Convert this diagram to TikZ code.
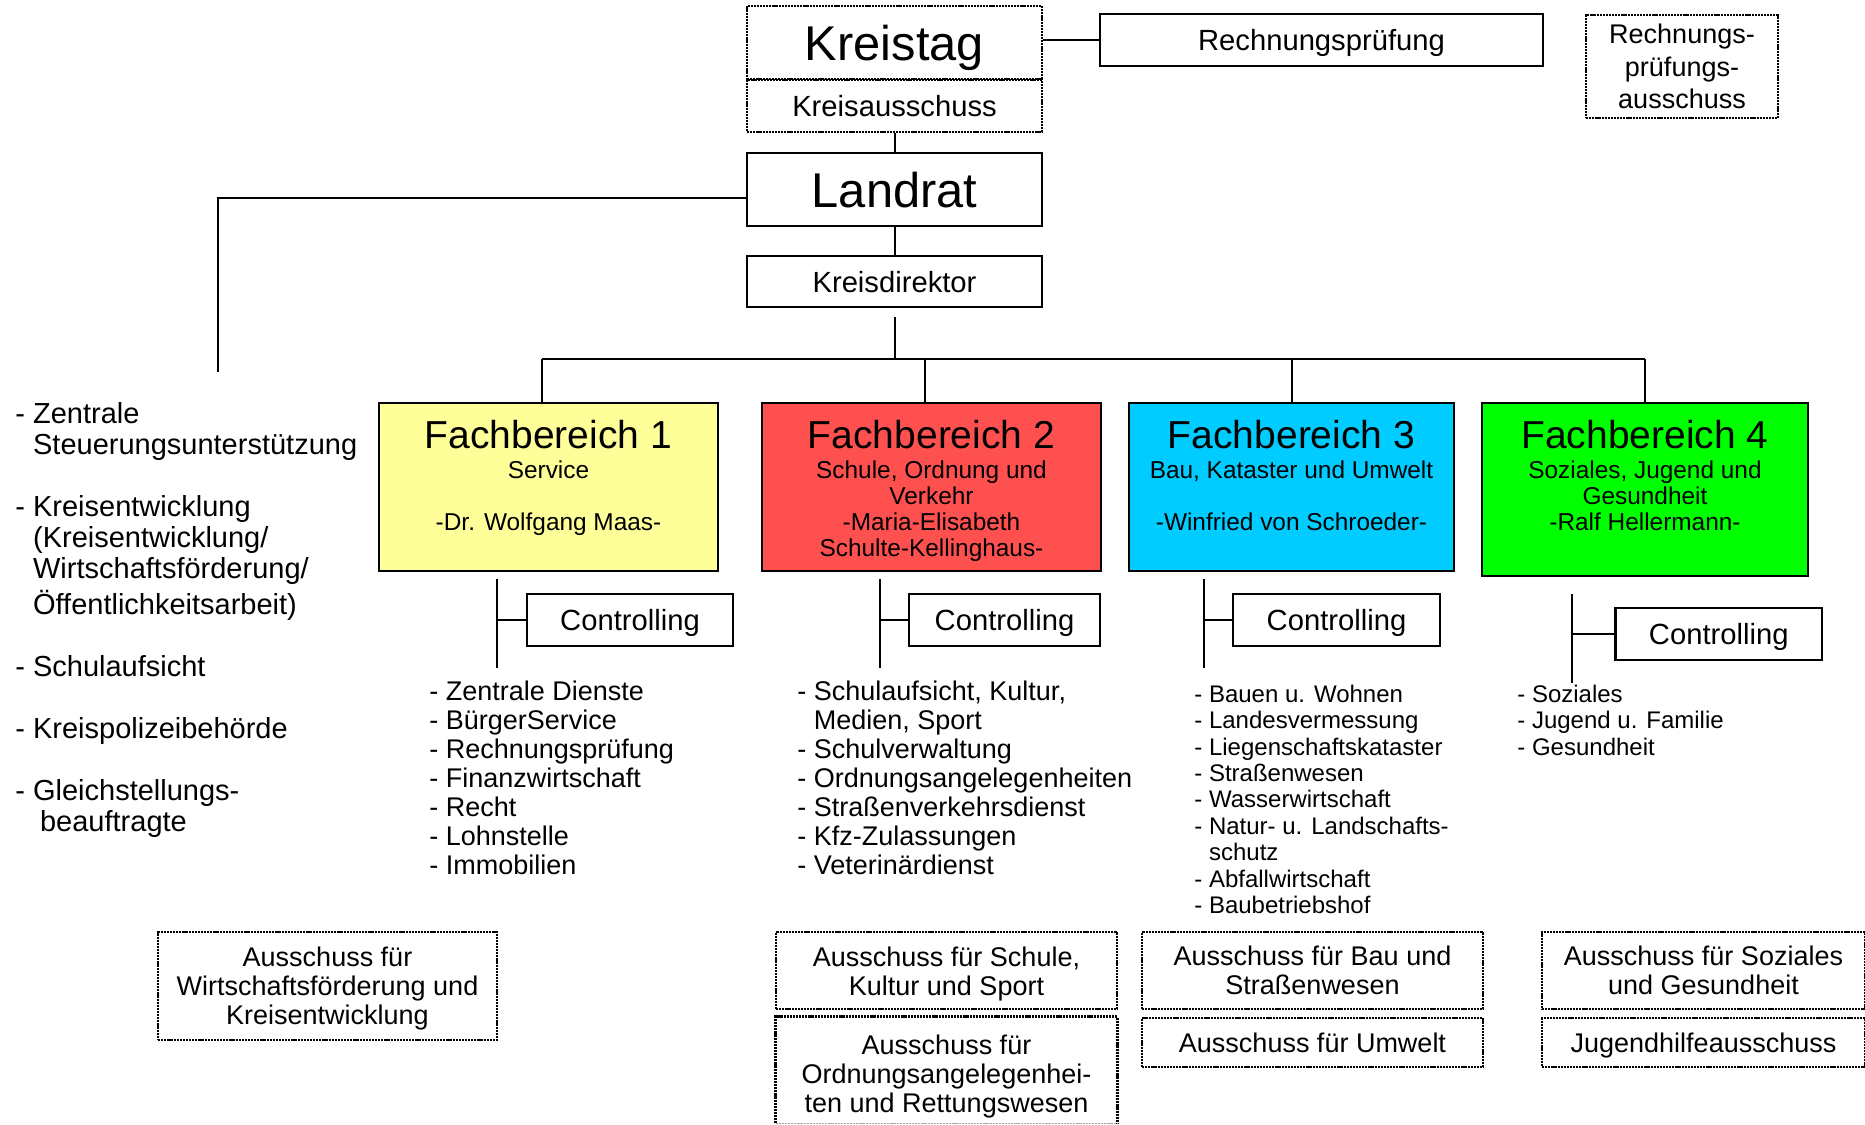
\documentclass[tikz,border=0pt]{standalone}
\usepackage{fontspec}
\setmainfont{Liberation Sans}
\newcommand\fs[2]{\fontsize{#1}{#2}\selectfont}
\definecolor{fbyellow}{RGB}{255,255,153}
\definecolor{fbred}{RGB}{255,80,80}
\definecolor{fbcyan}{RGB}{0,204,255}
\definecolor{fbgreen}{RGB}{0,255,0}
\tikzset{
  sbox/.style={draw, line width=1.25pt, inner sep=0pt},
  dline/.style={line width=1.3pt, dash pattern=on 1.1pt off 0.45pt},
  dbox/.style={draw, dline, inner sep=0pt},
  fbox/.style={draw, line width=1.2pt, inner sep=0pt},
  conn/.style={line width=1pt},
  bigtxt/.style={text height=17.6pt, text depth=0pt, font=\fs{24.4pt}{28pt}},
  midtxt/.style={text height=10.5pt, text depth=0pt, font=\fs{14.6pt}{17pt}},
  smalltxt/.style={text height=9.7pt, text depth=0pt, font=\fs{13.5pt}{14.5pt}},
  ttl/.style={inner sep=0pt, font=\fs{19.5pt}{22pt}},
  subtxt/.style={inner sep=0pt, align=center, font=\fs{12.2pt}{13pt}},
  listA/.style={inner sep=0pt, align=left, anchor=north west, font=\fs{13.5pt}{14.5pt}},
  listB/.style={inner sep=0pt, align=left, anchor=north west, font=\fs{12pt}{13.2pt}},
  listL/.style={inner sep=0pt, align=left, anchor=north west, font=\fs{14.5pt}{15.55pt}},
  atxt/.style={align=center, inner sep=0pt, font=\fs{13.5pt}{14.5pt}},
  frame/.style={inner sep=0pt},
}
\begin{document}
\begin{tikzpicture}[x=0.5pt, y=-0.5pt]
\path[use as bounding box] (0,0) rectangle (1865,1125);

% --- top level ---
\node[dbox, bigtxt, minimum width=147.5pt, minimum height=36.5pt] (kreistag) at (894.5,42.5) {Kreistag};
\node[dbox, midtxt, minimum width=147.5pt, minimum height=26pt] (kreisaus) at (894.5,106) {Kreisausschuss};
\node[sbox, midtxt, minimum width=221.5pt, minimum height=26pt] (rp) at (1321.5,40) {Rechnungsprüfung};
\node[dbox, align=center, font=\fs{13.5pt}{16.4pt}, minimum width=96pt, minimum height=51.5pt] (rpa) at (1682,66.5) {Rechnungs-\\prüfungs-\\ausschuss};
\node[sbox, bigtxt, minimum width=147.5pt, minimum height=36.5pt] (landrat) at (894.5,189.5) {Landrat};
\node[sbox, midtxt, minimum width=147.5pt, minimum height=25.5pt] (kreisdir) at (894.5,281.5) {Kreisdirektor};

\draw[conn] (rp.west) -- (rp.west -| kreistag.east);
\draw[conn] (kreisaus.south) -- (landrat.north);
\draw[conn] (landrat.south) -- (kreisdir.north);
\coordinate (lend) at (218,372);
\draw[conn] ([yshift=-4pt]landrat.west) -| (lend);

% --- bus to the departments ---
\coordinate (b1) at (542,359);
\coordinate (b2) at (925,359);
\coordinate (b3) at (1292,359);
\coordinate (b4) at (1645,359);
\draw[line width=1.1pt] (b1) -- (b4);
\draw[conn] ([yshift=-4.5pt]kreisdir.south) -- (kreisdir.south |- b1);

% --- departments ---
\node[fbox, fill=fbyellow, minimum width=169.5pt, minimum height=84pt] (fb1) at (548.5,487) {};
\node[fbox, fill=fbred, minimum width=169.5pt, minimum height=84pt] (fb2) at (931.5,487) {};
\node[fbox, fill=fbcyan, minimum width=162.5pt, minimum height=84pt] (fb3) at (1291.5,487) {};
\node[fbox, fill=fbgreen, minimum width=163pt, minimum height=86.5pt] (fb4) at (1645,489.5) {};

\draw[conn] (b1) -- (b1 |- fb1.north);
\draw[conn] (b2) -- (b2 |- fb2.north);
\draw[conn] (b3) -- (b3 |- fb3.north);
\draw[conn] (b4) -- (fb4.north);

\node[ttl, anchor=base] (fb1t) at (548.5,448) {Fachbereich 1};
\node[ttl, anchor=base] (fb2t) at (931.5,448) {Fachbereich 2};
\node[ttl, anchor=base] (fb3t) at (1291.5,448) {Fachbereich 3};
\node[ttl, anchor=base] (fb4t) at (1645,448) {Fachbereich 4};

\node[subtxt, anchor=north] (fb1s) at (548.5,460) {\strut Service\\\strut\\\strut -Dr. Wolfgang Maas-};
\node[subtxt, anchor=north] (fb2s) at (931.5,460) {\strut Schule, Ordnung und\\\strut Verkehr\\\strut -Maria-Elisabeth\\\strut Schulte-Kellinghaus-};
\node[subtxt, anchor=north] (fb3s) at (1291.5,460) {\strut Bau, Kataster und Umwelt\\\strut\\\strut -Winfried von Schroeder-};
\node[subtxt, anchor=north] (fb4s) at (1645,460) {\strut Soziales, Jugend und\\\strut Gesundheit\\\strut -Ralf Hellermann-};

% --- controlling ---
\node[sbox, midtxt, minimum width=103pt, minimum height=26pt] (c1) at (630,620) {Controlling};
\node[sbox, midtxt, minimum width=95.5pt, minimum height=26pt] (c2) at (1004.5,620) {Controlling};
\node[sbox, midtxt, minimum width=103.5pt, minimum height=26pt] (c3) at (1336.5,620) {Controlling};
\node[sbox, midtxt, minimum width=103.25pt, minimum height=26pt] (c4) at (1718.75,634) {Controlling};

\coordinate (v1t) at (497,579); \coordinate (v1b) at (497,668);
\coordinate (v2t) at (880,579); \coordinate (v2b) at (880,668);
\coordinate (v3t) at (1204,579); \coordinate (v3b) at (1204,668);
\coordinate (v4t) at (1572,594); \coordinate (v4b) at (1572,683);
\draw[conn] (v1t) -- (v1b); \draw[conn] (c1.west) -- (c1.west -| v1t);
\draw[conn] (v2t) -- (v2b); \draw[conn] (c2.west) -- (c2.west -| v2t);
\draw[conn] (v3t) -- (v3b); \draw[conn] (c3.west) -- (c3.west -| v3t);
\draw[conn] (v4t) -- (v4b); \draw[conn] (c4.west) -- (c4.west -| v4t);

% --- task lists ---
\node[listA] (l1) at (429,679.7) {\strut - Zentrale Dienste\\\strut - BürgerService\\\strut - Rechnungsprüfung\\\strut - Finanzwirtschaft\\\strut - Recht\\\strut - Lohnstelle\\\strut - Immobilien};
\node[listA] (l2) at (797,679.7) {\strut - Schulaufsicht, Kultur,\\\strut\phantom{- }Medien, Sport\\\strut - Schulverwaltung\\\strut - Ordnungsangelegenheiten\\\strut - Straßenverkehrsdienst\\\strut - Kfz-Zulassungen\\\strut - Veterinärdienst};
\node[listB] (l3) at (1194,683.5) {\strut - Bauen u. Wohnen\\\strut - Landesvermessung\\\strut - Liegenschaftskataster\\\strut - Straßenwesen\\\strut - Wasserwirtschaft\\\strut - Natur- u. Landschafts-\\\strut\phantom{- }schutz\\\strut - Abfallwirtschaft\\\strut - Baubetriebshof};
\node[listB] (l4) at (1517,683.5) {\strut - Soziales\\\strut - Jugend u. Familie\\\strut - Gesundheit};
\node[listL] (l0) at (15,401) {\strut - Zentrale\\\strut\phantom{- }Steuerungsunterstützung\\\strut\\\strut - Kreisentwicklung\\\strut\phantom{- }(Kreisentwicklung/\\\strut\phantom{- }Wirtschaftsförderung/\\\strut\phantom{- }Öffentlichkeitsarbeit)\\\strut\\\strut - Schulaufsicht\\\strut\\\strut - Kreispolizeibehörde\\\strut\\\strut - Gleichstellungs-\\\strut\phantom{- }\hspace{3.5pt}beauftragte};

% --- committees: dotted frames with their texts ---
\node[dbox, frame, minimum width=169.5pt, minimum height=54pt] (a1) at (327.5,986) {};
\node[atxt] (a1t) at (327.5,989) {Ausschuss für\\Wirtschaftsförderung und\\Kreisentwicklung};
\node[dbox, frame, minimum width=170.5pt, minimum height=38.5pt] (a2a) at (946.5,970.5) {};
\node[atxt] (a2at) at (946.5,974.5) {Ausschuss für Schule,\\Kultur und Sport};
\node[frame, minimum width=170.5pt, minimum height=53pt] (a2b) at (946.5,1070) {};
\draw[dline] (a2b.south west) -- (a2b.north west) -- (a2b.north east) -- (a2b.south east);
\draw[dline, line width=0.6pt, black!35] (a2b.south west) -- (a2b.south east);
\node[atxt] (a2bt) at (946.5,1077) {Ausschuss für\\Ordnungsangelegenhei-\\ten und Rettungswesen};
\node[dbox, frame, minimum width=170.5pt, minimum height=38.5pt] (a3a) at (1312.5,970.5) {};
\node[atxt] (a3at) at (1312.5,970.5) {Ausschuss für Bau und\\Straßenwesen};
\node[dbox, smalltxt, minimum width=170.5pt, minimum height=24.5pt] (a3b) at (1312.5,1042.5) {Ausschuss für Umwelt};
\node[dbox, frame, minimum width=161.5pt, minimum height=38.5pt] (a4a) at (1703.5,970.5) {};
\node[atxt] (a4at) at (1703.5,970.5) {Ausschuss für Soziales\\und Gesundheit};
\node[dbox, smalltxt, minimum width=161.5pt, minimum height=24.5pt] (a4b) at (1703.5,1042.5) {Jugendhilfeausschuss};
\end{tikzpicture}
\end{document}
